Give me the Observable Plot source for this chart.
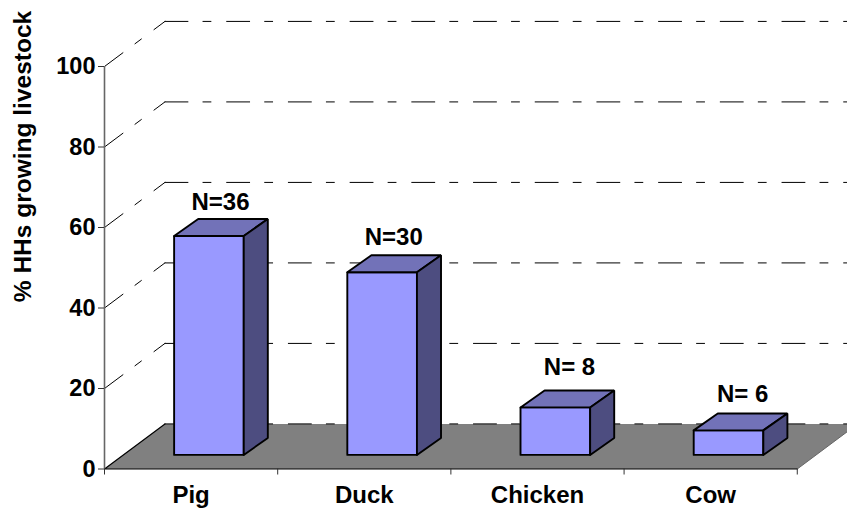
<!DOCTYPE html>
<html>
<head>
<meta charset="utf-8">
<script src="https://cdn.jsdelivr.net/npm/d3@7"></script>
<script src="https://cdn.jsdelivr.net/npm/@observablehq/plot@0.6"></script>
<style>html,body{margin:0;padding:0;background:#fff}svg{display:block}</style>
</head>
<body>
<div id="chart"></div>
<script>
const categories = ["Pig", "Duck", "Chicken", "Cow"];
const percents = [54.4, 45.4, 11.8, 6.1];
const nLabels = ["N=36", "N=30", "N= 8", "N= 6"];
const labelHeights = [62.6, 53.8, 21.5, 15];
const labelCentres = [0.67, 1.67, 2.685, 3.685];
const yTicks = [0, 20, 40, 60, 80, 100];
const gridValues = [0, 20, 40, 60, 80, 100];
const yTitle = "% HHs growing livestock";

// 3-D projection constants, in scale units
const wallDX = 0.349, wallDY = 11.2;      // floor depth
const barDX = 0.139, barDY = 4.2;       // bar depth
const barStart = 0.402, barWidth = 0.402, barBase = 3.5;
const xEnd = 4.29;
const dash = "23 15 8 15.7";

const poly = (id, pts) => pts.concat([pts[0]]).map(([x, y]) => ({id, x, y}));
const front = [], top_ = [], side = [];
categories.forEach((c, i) => {
  const l = i + barStart, r = l + barWidth, b = barBase, t = barBase + percents[i];
  front.push(...poly(c, [[l, b], [r, b], [r, t], [l, t]]));
  top_.push(...poly(c, [[l, t], [r, t], [r + barDX, t + barDY], [l + barDX, t + barDY]]));
  side.push(...poly(c, [[r, b], [r + barDX, b + barDY], [r + barDX, t + barDY], [r, t]]));
});
const floor = poly("floor", [[0, 0], [4, 0], [4 + wallDX, wallDY], [wallDX, wallDY]]);
const diag = gridValues.filter(v => v > 0).flatMap(v => [{id: v, x: 0, y: v}, {id: v, x: wallDX, y: v + wallDY}]);
const back = gridValues.flatMap(v => [{id: v, x: wallDX, y: v + wallDY}, {id: v, x: xEnd, y: v + wallDY}]);
const labels = categories.map((c, i) => ({x: labelCentres[i], y: labelHeights[i], text: nLabels[i]}));

const bw = 1.9;
const plot = Plot.plot({
  width: 847,
  height: 508,
  marginLeft: 104,
  marginRight: 0,
  marginTop: 66,
  marginBottom: 39.5,
  style: {fontFamily: "'Liberation Sans', Arial, sans-serif", fontWeight: "bold", background: "#fff", overflow: "hidden"},
  x: {domain: [0, xEnd]},
  y: {domain: [0, 100]},
  marks: [
    Plot.line(floor, {x: "x", y: "y", z: "id", fill: "#808080", stroke: "none"}),
    Plot.line(diag, {x: "x", y: "y", z: "id", stroke: "#000", strokeWidth: 1, strokeDasharray: dash}),
    Plot.line(back, {x: "x", y: "y", z: "id", stroke: "#000", strokeWidth: 1, strokeDasharray: dash}),
    Plot.line([{x: wallDX, y: wallDY}, {x: 0, y: 0}, {x: 4, y: 0}], {x: "x", y: "y", stroke: "#000", strokeWidth: 1.2}),
    Plot.line([{x: 4, y: 0}, {x: 4 + wallDX, y: wallDY}], {x: "x", y: "y", stroke: "#666", strokeWidth: 1}),
    Plot.ruleX([0], {y1: 0, y2: 100, stroke: "#666", strokeWidth: 1.6}),
    Plot.axisY({ticks: yTicks, tickSize: 6, tickPadding: 3, label: null, fontSize: 23.5, fontWeight: "bold", stroke: "#333"}),
    Plot.axisX({ticks: [0, 1, 2, 3, 4], tickSize: 6, tickFormat: () => "", label: null, stroke: "#333"}),
    Plot.axisX({ticks: categories.map((c, i) => i + 0.5), tickSize: 0, tickPadding: 17, tickFormat: v => categories[v - 0.5], label: null, fontSize: 24, fontWeight: "bold"}),
    Plot.line(front, {x: "x", y: "y", z: "id", fill: "#9999ff", stroke: "#000", strokeWidth: bw, strokeLinejoin: "miter"}),
    Plot.line(top_, {x: "x", y: "y", z: "id", fill: "#7272b8", stroke: "#000", strokeWidth: bw, strokeLinejoin: "miter"}),
    Plot.line(side, {x: "x", y: "y", z: "id", fill: "#4d4d80", stroke: "#000", strokeWidth: bw, strokeLinejoin: "miter"}),
    Plot.text(labels, {x: "x", y: "y", text: "text", lineAnchor: "bottom", dy: -7, fontSize: 24, fontWeight: "bold", fill: "#000"}),
    Plot.text([yTitle], {frameAnchor: "top-left", textAnchor: "middle", lineAnchor: "middle", dx: -81, dy: 90, rotate: -90, fontSize: 24.5, fontWeight: "bold", fill: "#000"})
  ]
});
document.getElementById("chart").appendChild(plot);
</script>
</body>
</html>
